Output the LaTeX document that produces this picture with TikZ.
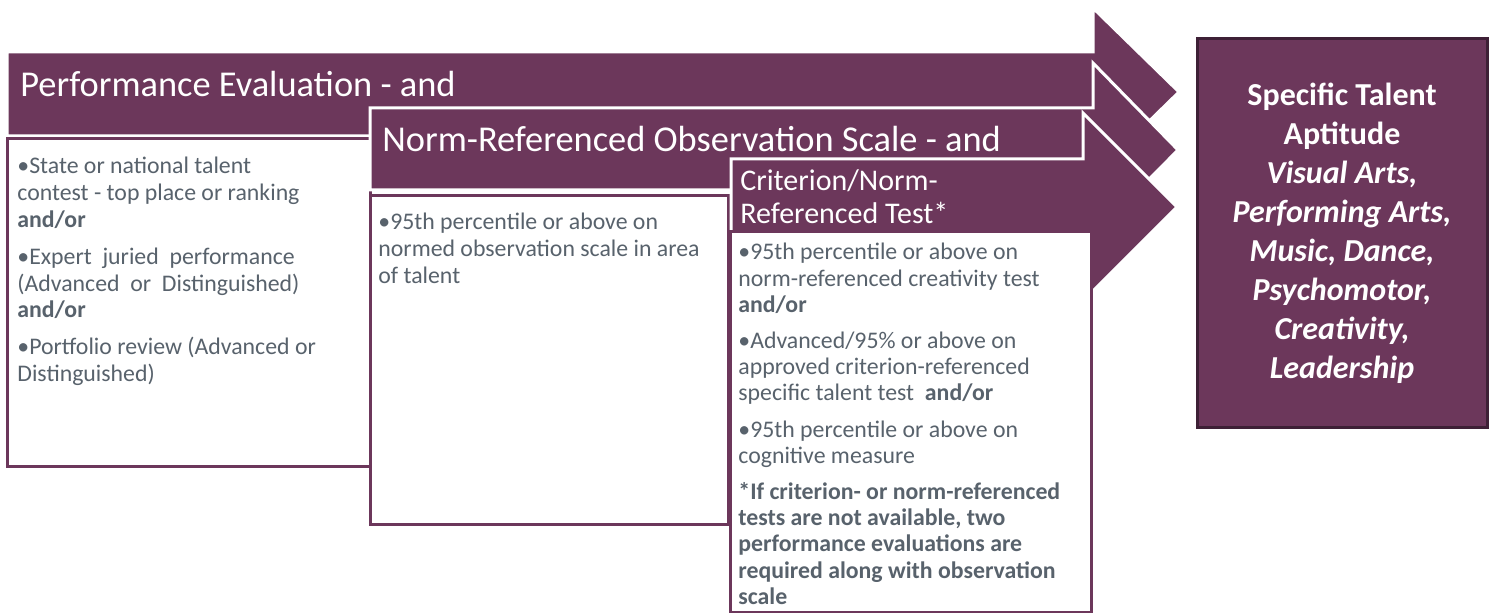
\documentclass[tikz,border=0pt]{standalone}
\usepackage{fontspec}
\setmainfont{Carlito}

\definecolor{plum}{RGB}{108,55,91}
\definecolor{plumdark}{RGB}{62,32,54}
\definecolor{slate}{RGB}{88,98,108}

\newcommand{\toplines}[1]{\begin{tabular}[t]{@{}l@{}}#1\end{tabular}}

\tikzset{
  band/.style={fill=plum,draw=white,line width=1.5pt,line join=miter},
  card/.style={fill=white,draw=plum,line width=1.5pt},
  head/.style={text=white,inner sep=0pt,anchor=base west},
  bullets/.style={text=slate,inner sep=0pt,anchor=base west,
    font=\fontsize{11.9}{13.4}\selectfont},
}

\begin{document}
\begin{tikzpicture}[x=0.5pt,y=-0.5pt]
\useasboundingbox (0,0) rectangle (1492,613);

\draw[band] (7,52) -- (1093,52) -- (1093,8) -- (1179,92) -- (1093,176) -- (1093,136) -- (7,136) -- cycle;
  \node[head,font=\fontsize{18.2}{21}\selectfont] (tPE) at (20,97) {Performance Evaluation - and};

\draw[card] (7,139) rectangle (370,467);
  \node[bullets] (tPEL) at (17,174) {\toplines{•State or national talent\\contest - top place or ranking\\\textbf{and/or}\\[5pt]
    •Expert \ juried \ performance\\(Advanced \ or \ Distinguished)\\\textbf{and/or}\\[5pt]
    •Portfolio review (Advanced or\\Distinguished)}};


\draw[band] (370,108) -- (1093,108) -- (1093,63) -- (1178,150) -- (1093,236) -- (1093,190) -- (370,190) -- cycle;
  \node[head,font=\fontsize{18.2}{21}\selectfont] (tNR) at (382,152) {Norm-Referenced Observation Scale - and};

\draw[card] (370,196) rectangle (728,525);
  \node[bullets] (tNRL) at (378,230) {\toplines{•95th percentile or above on\\normed observation scale in area\\of talent}};


\draw[band] (731,159) -- (1083,159) -- (1083,113) -- (1177,207) -- (1083,301) -- (1083,232) -- (731,232) -- cycle;
  \node[head,font=\fontsize{15}{16.5}\selectfont] (tCN) at (740,191) {\toplines{Criterion/Norm-\\Referenced Test*}};

\draw[card] (730,232) rectangle (1091,612);
  \node[bullets,font=\fontsize{11.9}{13.1}\selectfont] (tCNL) at (738,260) {\toplines{•95th percentile or above on\\norm-referenced creativity test\\\textbf{and/or}\\[5pt]
    •Advanced/95\% or above on\\approved criterion-referenced\\specific talent test \ \textbf{and/or}\\[5pt]
    •95th percentile or above on\\cognitive measure\\[5pt]
    \textbf{*If criterion- or norm-referenced}\\\textbf{tests are not available, two}\\\textbf{performance evaluations are}\\
    \textbf{required along with observation}\\\textbf{scale}}};


\node[fill=plum,draw=plumdark,line width=1.5pt,minimum width=145pt,minimum height=194.5pt,
  text=white,align=center,font=\bfseries\fontsize{16}{19.5}\selectfont] (tST) at (1342,233)
  {Specific Talent\\Aptitude\\\textit{Visual Arts,}\\\textit{Performing Arts,}\\\textit{Music, Dance,}\\
   \textit{Psychomotor,}\\\textit{Creativity,}\\\textit{Leadership}};

\end{tikzpicture}
\end{document}
